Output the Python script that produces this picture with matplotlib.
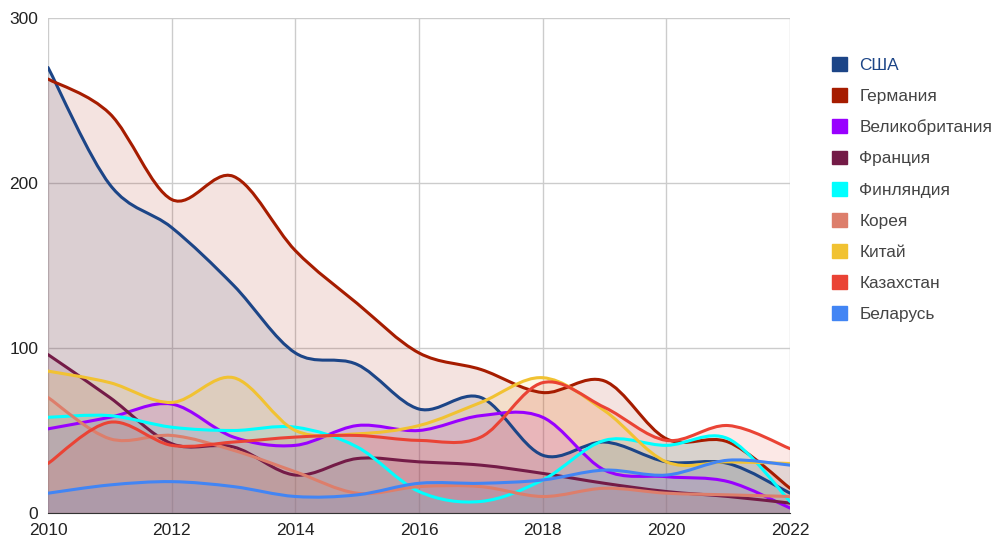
import numpy as np
import matplotlib
matplotlib.use("Agg")
import matplotlib.pyplot as plt
from matplotlib.path import Path
from matplotlib.patches import PathPatch, Patch

plt.rcParams['font.family'] = ['Liberation Sans', 'DejaVu Sans']

# Data
years = list(range(2010, 2023))
countries = ["США", "Германия", "Великобритания", "Франция", "Финляндия",
             "Корея", "Китай", "Казахстан", "Беларусь"]
usa = [270, 199, 173, 138, 97, 90, 63, 70, 35, 43, 31, 30, 12]
germany = [263, 242, 190, 204, 159, 127, 97, 87, 73, 80, 45, 43, 15]
uk = [51, 58, 66, 46, 41, 53, 50, 59, 58, 26, 22, 19, 3]
france = [96, 70, 42, 40, 23, 33, 31, 29, 24, 18, 13, 10, 6]
finland = [58, 59, 52, 50, 52, 40, 13, 7, 20, 44, 41, 45, 7]
korea = [70, 45, 47, 38, 25, 12, 16, 16, 10, 15, 12, 11, 10]
china = [86, 79, 67, 82, 50, 48, 53, 67, 82, 62, 31, 31, 30]
kazakhstan = [30, 55, 41, 43, 46, 47, 44, 46, 79, 64, 44, 53, 39]
belarus = [12, 17, 19, 16, 10, 11, 18, 18, 20, 26, 23, 32, 29]
series = [usa, germany, uk, france, finland, korea, china, kazakhstan, belarus]
colors = ["#1c4587", "#a61c00", "#9900ff", "#741b47", "#00ffff",
          "#dd7e6b", "#f1c232", "#ea4335", "#4285f4"]


def smooth_path(xs, ys, closed=False):
    # cubic bezier through the points, catmull-rom style tangents
    xs = np.asarray(xs, float)
    ys = np.asarray(ys, float)
    n = len(xs)
    verts = [(xs[0], ys[0])]
    codes = [Path.MOVETO]
    for i in range(n - 1):
        i0 = max(i - 1, 0)
        i3 = min(i + 2, n - 1)
        c1 = (xs[i] + (xs[i + 1] - xs[i0]) / 6, ys[i] + (ys[i + 1] - ys[i0]) / 6)
        c2 = (xs[i + 1] - (xs[i3] - xs[i]) / 6, ys[i + 1] - (ys[i3] - ys[i]) / 6)
        verts += [c1, c2, (xs[i + 1], ys[i + 1])]
        codes += [Path.CURVE4] * 3
    if closed:
        verts += [(xs[-1], 0), (xs[0], 0), (xs[0], ys[0])]
        codes += [Path.LINETO, Path.LINETO, Path.CLOSEPOLY]
    return Path(verts, codes)


fig = plt.figure(figsize=(9.92, 5.37), dpi=100)
ax = fig.add_axes([0.0484, 0.0447, 0.7480, 0.9218])

for vals, c in zip(series, colors):
    ax.add_patch(PathPatch(smooth_path(years, vals, closed=True),
                           facecolor=c, alpha=0.12, edgecolor="none", zorder=1))
for vals, c in zip(series, colors):
    ax.add_patch(PathPatch(smooth_path(years, vals), facecolor="none",
                           edgecolor=c, lw=2.2, zorder=3, capstyle="round"))

ax.set_xlim(2010, 2022)
ax.set_ylim(0, 300)
ax.set_xticks(range(2010, 2023, 2))
ax.set_yticks([0, 100, 200, 300])
ax.grid(True, color="#cccccc", lw=1, zorder=0)
ax.set_axisbelow(True)
for s in ["top", "right", "left"]:
    ax.spines[s].set_visible(False)
ax.spines["bottom"].set_color("#333333")
ax.spines["bottom"].set_zorder(4)
ax.tick_params(length=0, labelsize=12.5, colors="#222222")
ax.tick_params(axis="x", pad=7.5)
ax.tick_params(axis="y", pad=7)

handles = [Patch(facecolor=c, edgecolor=c) for c in colors]
leg = fig.legend(handles, countries, loc="upper left",
                 bbox_to_anchor=(0.8317, 0.9064), frameon=False,
                 fontsize=12.4, handlelength=0.85, handleheight=0.85,
                 handletextpad=0.75, labelspacing=0.89, borderaxespad=0)
for i, t in enumerate(leg.get_texts()):
    t.set_color("#1c4587" if i == 0 else "#444444")

fig.savefig("out.png", dpi=100, facecolor="white")
